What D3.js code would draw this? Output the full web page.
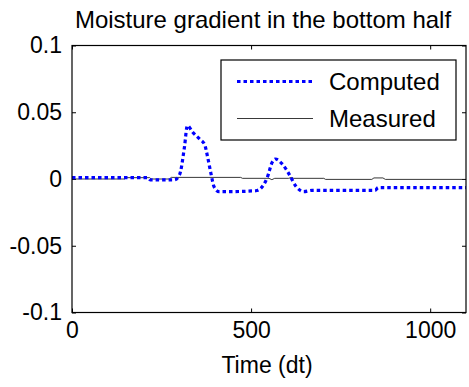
<!DOCTYPE html>
<html>
<head>
<meta charset="utf-8">
<script src="https://cdn.jsdelivr.net/npm/d3@7"></script>
<style>
  body { margin: 0; background: #fff; }
  text { font-family: "Liberation Sans", Arial, sans-serif; fill: #000; }
</style>
</head>
<body>
<svg id="chart" width="469" height="387"></svg>
<script>
// data
var computedT = [0, 143, 212, 218, 286, 300, 314, 322, 337, 356, 370, 379, 388, 397, 411, 430, 513, 527, 545, 559, 568, 587, 606, 624, 647, 670, 846, 855, 1100]
var computedV = [0.001, 0.001, 0.001, -0.0006, -0.0006, 0.003, 0.024, 0.040, 0.035, 0.030, 0.026, 0.016, 0.004, -0.006, -0.0095, -0.0095, -0.0088, -0.007, 0.001, 0.0125, 0.015, 0.0112, 0.0037, -0.005, -0.0095, -0.0085, -0.0085, -0.0065, -0.0065]
var measuredT = [0, 147, 152, 217, 221, 272, 277, 471, 476, 550, 558, 566, 605, 612, 619, 703, 708, 837, 843, 868, 875, 1100]
var measuredV = [0, 0, 0.001, 0.001, 0, 0, 0.0012, 0.0012, 0.0005, 0.0005, -0.0005, 0.0005, 0.0005, 0.0012, 0.0005, 0.0005, -0.0003, -0.0003, 0.0008, 0.0008, -0.0003, -0.0003]
var xTicks = [0, 500, 1000]
var yTicks = [-0.1, -0.05, 0, 0.05, 0.1]
var seriesNames = ["Computed", "Measured"]

var margins = {left: 72, right: 3, top: 45.5, bottom: 74.5}
var width = 469, height = 387

var svg = d3.select("#chart")
var x = d3.scaleLinear().domain([0, 1100]).range([margins.left, width - margins.right])
var y = d3.scaleLinear().domain([-0.1, 0.1]).range([height - margins.bottom, margins.top])

var plotW = x.range()[1] - x.range()[0]
var plotH = y.range()[0] - y.range()[1]

// ticks pointing inward on all four sides
function axisStyle(g) {
  g.select(".domain").remove()
  g.selectAll(".tick line").attr("stroke", "#000").attr("stroke-width", 1)
  g.selectAll(".tick text").style("font-size", "23px").attr("fill", "#000")
}
svg.append("g").attr("transform", "translate(0," + y.range()[0] + ")")
  .call(d3.axisBottom(x).tickValues(xTicks).tickSize(-4).tickPadding(9).tickFormat(function(d) { return String(d) }))
  .call(axisStyle)
svg.append("g").attr("transform", "translate(0," + y.range()[1] + ")")
  .call(d3.axisTop(x).tickValues(xTicks).tickSize(-4).tickFormat(""))
  .call(axisStyle)
svg.append("g").attr("transform", "translate(" + x.range()[0] + ",0)")
  .call(d3.axisLeft(y).tickValues(yTicks).tickSize(-4).tickPadding(10).tickFormat(function(d) { return String(d) }))
  .call(axisStyle)
svg.append("g").attr("transform", "translate(" + x.range()[1] + ",0)")
  .call(d3.axisRight(y).tickValues(yTicks).tickSize(-4).tickFormat(""))
  .call(axisStyle)

var line = d3.line().x(function(d) { return x(d[0]) }).y(function(d) { return y(d[1]) })

svg.append("path")
  .datum(d3.zip(measuredT, measuredV))
  .attr("d", line)
  .attr("fill", "none")
  .attr("stroke", "#222")
  .attr("stroke-width", 0.9)

svg.append("path")
  .datum(d3.zip(computedT, computedV))
  .attr("d", line.curve(d3.curveMonotoneX))
  .attr("fill", "none")
  .attr("stroke", "#0000ff")
  .attr("stroke-width", 3.2)
  .attr("stroke-dasharray", "3.5,3")

// frame
svg.append("rect")
  .attr("x", x.range()[0]).attr("y", y.range()[1])
  .attr("width", plotW).attr("height", plotH)
  .attr("fill", "none").attr("stroke", "#000").attr("stroke-width", 1.2)

// title and axis label
svg.append("text").text("Moisture gradient in the bottom half")
  .attr("x", 263).attr("y", 28).attr("text-anchor", "middle").style("font-size", "24px")
svg.append("text").text("Time (dt)")
  .attr("x", 267).attr("y", 373).attr("text-anchor", "middle").style("font-size", "23px")

// legend
var legend = svg.append("g")
legend.append("rect")
  .attr("x", 221).attr("y", 60).attr("width", 235).attr("height", 80)
  .attr("fill", "#fff").attr("stroke", "#000").attr("stroke-width", 1.2)
var rowY = [81.5, 118.5]
legend.append("line")
  .attr("x1", 237).attr("x2", 313).attr("y1", rowY[0]).attr("y2", rowY[0])
  .attr("stroke", "#0000ff").attr("stroke-width", 3.2).attr("stroke-dasharray", "3.5,3")
legend.append("line")
  .attr("x1", 237).attr("x2", 313).attr("y1", rowY[1]).attr("y2", rowY[1])
  .attr("stroke", "#222").attr("stroke-width", 0.9)
legend.selectAll("text.lbl").data(seriesNames).enter().append("text")
  .attr("class", "lbl")
  .attr("x", 329).attr("y", function(d, i) { return rowY[i] + 8.5 })
  .style("font-size", "24px")
  .text(function(d) { return d })
</script>
</body>
</html>
